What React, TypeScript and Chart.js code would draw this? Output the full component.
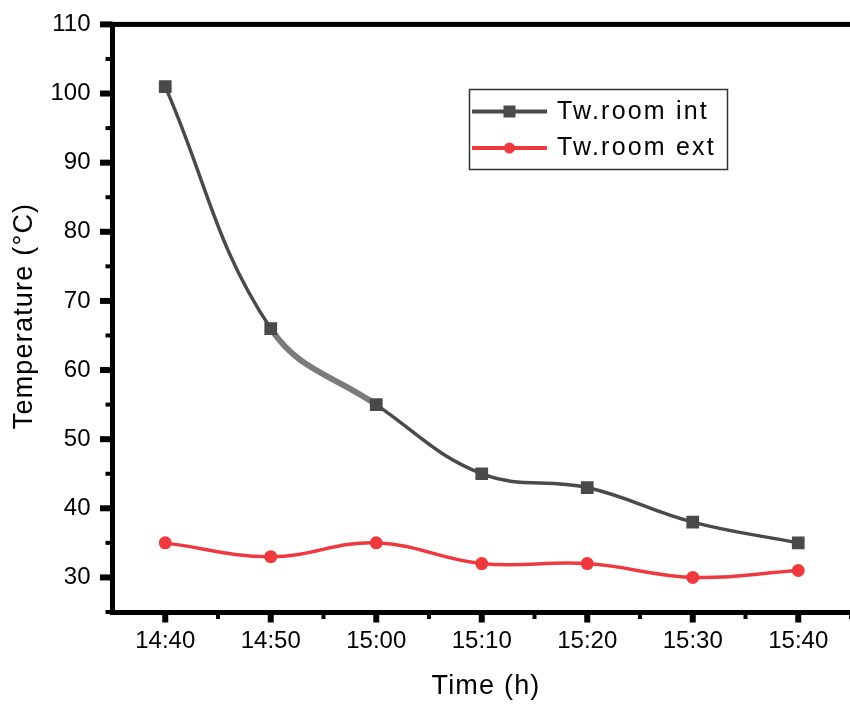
import React, { useEffect, useRef } from "react";
import { Chart, registerables } from "chart.js";

Chart.register(...registerables);

// ---- data ----
const timeLabels = ["14:40", "14:50", "15:00", "15:10", "15:20", "15:30", "15:40"];
const roomIntValues = [101, 66, 55, 45, 43, 38, 35];
const roomExtValues = [35, 33, 35, 32, 32, 30, 31];
const seriesNames = ["Tw.room int", "Tw.room ext"];
const yTickValues = [30, 40, 50, 60, 70, 80, 90, 100, 110];
const yMinorValues = [25, 35, 45, 55, 65, 75, 85, 95, 105];
const xMinorValues = [0.5, 1.5, 2.5, 3.5, 4.5, 5.5, 6.5];
const yRange = [25, 110];
const yTitle = "Temperature (°C)";
const xTitle = "Time (h)";

const INT_COLOR = "#4a4a4a";
const INT_LIGHT = "#7b7b7b";
const EXT_COLOR = "#ee3a3f";
const FONT = "'Liberation Sans', Arial, sans-serif";

const decorPlugin = {
  id: "decor",
  afterDraw(chart: any) {
    const ctx = chart.ctx;
    const area = chart.chartArea;
    const xs = chart.scales.x;
    const ys = chart.scales.y;
    ctx.save();
    ctx.fillStyle = "#000";
    // top frame line
    ctx.fillRect(area.left - 2.5, area.top - 2.5, chart.width - area.left + 2.5, 5);
    // major ticks
    ys.ticks.forEach((t: any) => {
      const y = ys.getPixelForValue(t.value);
      ctx.fillRect(area.left - 12.5, y - 3, 12.5, 6);
    });
    xs.ticks.forEach((t: any, i: number) => {
      const x = xs.getPixelForTick(i);
      ctx.fillRect(x - 3, area.bottom, 6, 10.5);
    });
    // minor ticks
    yMinorValues.forEach((v) => {
      const y = ys.getPixelForValue(v);
      ctx.fillRect(area.left - 7, y - 2, 7, 4);
    });
    xMinorValues.forEach((v) => {
      const x = xs.getPixelForValue(v);
      ctx.fillRect(x - 2, area.bottom, 4, 7);
    });
    // axis titles
    ctx.fillStyle = "#000";
    ctx.font = `27px ${FONT}`;
    (ctx as any).letterSpacing = "1.2px";
    ctx.textAlign = "center";
    ctx.textBaseline = "alphabetic";
    ctx.fillText(xTitle, 486, 694);
    ctx.save();
    ctx.translate(32, 316);
    ctx.rotate(-Math.PI / 2);
    ctx.fillText(yTitle, 0, 0);
    ctx.restore();

    // legend
    ctx.lineWidth = 1.5;
    ctx.strokeStyle = "#333";
    ctx.strokeRect(469.5, 89.5, 258, 80);
    const rows = [
      { y: 111.5, color: INT_COLOR, style: "rect", name: seriesNames[0] },
      { y: 148, color: EXT_COLOR, style: "circle", name: seriesNames[1] },
    ];
    rows.forEach((r) => {
      ctx.strokeStyle = r.color;
      ctx.lineWidth = 4;
      ctx.beginPath();
      ctx.moveTo(472, r.y);
      ctx.lineTo(547, r.y);
      ctx.stroke();
      ctx.fillStyle = r.color;
      if (r.style === "rect") {
        ctx.fillRect(503.5, r.y - 6, 12, 12);
      } else {
        ctx.beginPath();
        ctx.arc(509.5, r.y, 5.5, 0, Math.PI * 2);
        ctx.fill();
      }
      ctx.fillStyle = "#000";
      ctx.font = `25px ${FONT}`;
      (ctx as any).letterSpacing = "2.2px";
      ctx.textAlign = "left";
      ctx.fillText(r.name, 557, r.y + 7);
    });
    ctx.restore();
  },
};

export default function App() {
  const canvasRef = useRef<HTMLCanvasElement | null>(null);

  useEffect(() => {
    const canvas = canvasRef.current;
    if (!canvas) return;
    const chart = new Chart(canvas, {
      type: "line",
      data: {
        labels: timeLabels,
        datasets: [
          {
            label: seriesNames[0],
            data: roomIntValues,
            borderColor: INT_COLOR,
            backgroundColor: INT_COLOR,
            borderWidth: 3.5,
            tension: 0.4,
            pointStyle: "rect",
            pointRadius: 9,
            pointBorderWidth: 0,
            pointBackgroundColor: INT_COLOR,
            segment: {
              borderColor: (c: any) => (c.p0DataIndex === 1 ? INT_LIGHT : undefined),
              borderWidth: (c: any) => (c.p0DataIndex === 1 ? 6 : undefined),
            },
          } as any,
          {
            label: seriesNames[1],
            data: roomExtValues,
            borderColor: EXT_COLOR,
            backgroundColor: EXT_COLOR,
            borderWidth: 3.5,
            tension: 0.4,
            pointStyle: "circle",
            pointRadius: 6.5,
            pointBorderWidth: 0,
            pointBackgroundColor: EXT_COLOR,
          },
        ],
      },
      options: {
        responsive: false,
        animation: false,
        devicePixelRatio: 1,
        layout: { padding: { left: 0, top: 22.5, right: 5, bottom: 0 } },
        plugins: {
          legend: { display: false },
          tooltip: { enabled: false },
        },
        scales: {
          x: {
            type: "category",
            offset: true,
            grid: {
              offset: false,
              drawOnChartArea: false,
              drawTicks: true,
              tickLength: 10,
              tickColor: "rgba(0,0,0,0)",
            },
            border: { display: true, color: "#000", width: 5 },
            ticks: {
              color: "#000",
              font: { family: FONT, size: 24 },
              padding: 5,
              maxRotation: 0,
              autoSkip: false,
            },
            afterFit: (scale: any) => {
              scale.height = 94;
            },
          },
          y: {
            type: "linear",
            min: yRange[0],
            max: yRange[1],
            grid: {
              drawOnChartArea: false,
              drawTicks: true,
              tickLength: 12,
              tickColor: "rgba(0,0,0,0)",
            },
            border: { display: true, color: "#000", width: 5 },
            ticks: {
              color: "#000",
              font: { family: FONT, size: 24 },
              padding: 10,
            },
            afterBuildTicks: (scale: any) => {
              scale.ticks = yTickValues.map((v) => ({ value: v }));
            },
            afterFit: (scale: any) => {
              scale.width = 112.5;
            },
          },
        },
      } as any,
      plugins: [decorPlugin],
    });
    return () => chart.destroy();
  }, []);

  return (
    <div
      style={{
        position: "absolute",
        left: 0,
        top: 0,
        width: 850,
        height: 706,
        overflow: "hidden",
        background: "#fff",
      }}
    >
      <canvas ref={canvasRef} width={860} height={706} style={{ width: 860, height: 706, display: "block" }} />
    </div>
  );
}
